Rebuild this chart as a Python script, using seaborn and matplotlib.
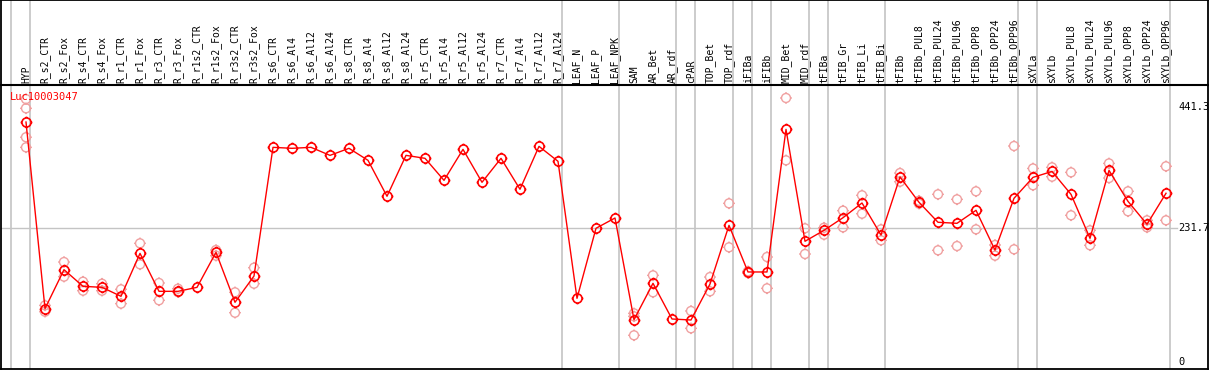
import numpy as np
import pandas as pd
import seaborn as sns
import matplotlib.pyplot as plt
from matplotlib.path import Path

nan = np.nan

samples = ['HYP', 'R_s2_CTR', 'R_s2_Fox', 'R_s4_CTR', 'R_s4_Fox', 'R_r1_CTR', 'R_r1_Fox',
           'R_r3_CTR', 'R_r3_Fox', 'R_r1s2_CTR', 'R_r1s2_Fox', 'R_r3s2_CTR', 'R_r3s2_Fox',
           'R_s6_CTR', 'R_s6_Al4', 'R_s6_Al12', 'R_s6_Al24', 'R_s8_CTR', 'R_s8_Al4',
           'R_s8_Al12', 'R_s8_Al24', 'R_r5_CTR', 'R_r5_Al4', 'R_r5_Al12', 'R_r5_Al24',
           'R_r7_CTR', 'R_r7_Al4', 'R_r7_Al12', 'R_r7_Al24', 'LEAF_N', 'LEAF_P', 'LEAF_NPK',
           'SAM', 'AR_Bet', 'AR_rdf', 'cPAR', 'TOP_Bet', 'TOP_rdf', 'iFIBa', 'iFIBb',
           'MID_Bet', 'MID_rdf', 'tFIBa', 'tFIB_Gr', 'tFIB_Li', 'tFIB_Bi', 'tFIBb',
           'tFIBb_PUL8', 'tFIBb_PUL24', 'tFIBb_PUL96', 'tFIBb_OPP8', 'tFIBb_OPP24',
           'tFIBb_OPP96', 'sXYLa', 'sXYLb', 'sXYLb_PUL8', 'sXYLb_PUL24', 'sXYLb_PUL96',
           'sXYLb_OPP8', 'sXYLb_OPP24', 'sXYLb_OPP96']

# mean expression
mean_val = [415.3, 92.3, 159.8, 131.0, 129.2, 113.7, 188.0, 122.3, 122.3, 129.2, 189.8,
            103.3, 148.8, 371.5, 369.8, 371.5, 357.6, 369.8, 349.0, 286.8, 357.6, 352.5,
            314.4, 368.0, 311.0, 352.5, 298.9, 373.2, 347.3, 110.2, 231.4, 249.2, 73.2,
            136.2, 74.4, 72.7, 135.0, 236.5, 155.8, 155.8, 402.6, 208.9, 227.9, 249.7,
            275.2, 219.8, 320.2, 276.4, 241.8, 240.0, 262.5, 193.8, 283.3, 319.5, 329.8,
            290.2, 214.0, 331.6, 278.0, 238.3, 292.0]

# replicates
rep1 = [439, 98, 173, 139, 135.5, 125.8, 205.4, 136.7, 126.9, nan, 193.8, 120.6, 163.2,
        nan, nan, nan, nan, nan, nan, nan, nan, nan, nan, nan, nan, nan, nan, nan, nan,
        nan, nan, nan, 84.2, 150, nan, 88.3, 147, 274.6, 157, 181.7, 456.9, 231.4, 232.4,
        261.9, 288.5, 229.6, 327, 279, 290.2, 281.5, 295.4, 202.5, 373.8, 335, 336.9,
        328.2, 227.9, 343.7, 295.4, 245.2, 338.7]
rep2 = [389, 87, 147.7, 123.4, 123.4, 101, 169, 106.8, 121, nan, 184, 85.3, 135.5,
        nan, nan, nan, nan, nan, nan, nan, nan, nan, nan, nan, nan, nan, nan, nan, nan,
        nan, nan, nan, 46.2, 120.6, nan, 58.3, 122.3, 198.5, 154, 127.5, 349, 186.9, 220.3,
        233, 256.6, 210.6, 312, 274, 193.3, 200.7, 229.6, 184, 195, 305.8, 320.7,
        253.9, 202, 318.4, 260.8, 233, 245.2]
rep3 = [455, nan, nan, nan, nan, nan, nan, nan, nan, nan, nan, nan, nan, nan, nan, nan,
        nan, nan, nan, nan, nan, nan, nan, nan, nan, nan, nan, nan, nan, nan, nan, nan,
        79, nan, nan, nan, nan, nan, nan, nan, nan, nan, nan, nan, nan, nan, nan, nan,
        nan, nan, nan, nan, nan, nan, nan, nan, nan, nan, nan, nan, nan]
rep4 = [371.5] + [nan] * 60

# last sample of each group (separator lines)
group_ends = [-1, 0, 28, 31, 34, 35, 37, 38, 39, 41, 42, 45, 52, 53, 60]
y_ticks = [441.3, 231.7, 0]
gene = 'Luc10003047'

pos = np.arange(len(samples))
main_df = pd.DataFrame({'pos': pos, 'value': mean_val})
rep_df = pd.DataFrame({'pos': np.tile(pos, 4),
                       'value': rep1 + rep2 + rep3 + rep4}).dropna()

# circle marker with four tiny ticks
circ = Path.unit_circle()
tk = 1.3
ticks = Path([(0, 1), (0, tk), (0, -1), (0, -tk), (1, 0), (tk, 0), (-1, 0), (-tk, 0)],
             [Path.MOVETO, Path.LINETO] * 4)
mark = Path.make_compound_path(circ, ticks)

W, H = 1209, 370
fig = plt.figure(figsize=(W / 100, H / 100), dpi=100)
plt.rcParams['font.family'] = ['DejaVu Sans Mono']

x0, x1 = 1, 1208
xlim = ((x0 - 26) / 19, (x1 - 26) / 19)
ax = fig.add_axes([x0 / W, (H - 369) / H, (x1 - x0) / W, (369 - 85) / H])
hax = fig.add_axes([x0 / W, (H - 85) / H, (x1 - x0) / W, 85 / H])

for a in (ax, hax):
    a.set_xlim(*xlim)
    a.set_xticks([])
    a.set_yticks([])
    for s in a.spines.values():
        s.set_linewidth(1.3)
        s.set_color('black')
    for g in group_ends:
        a.axvline(g + 0.22, color='#c4c4c4', lw=1.2, zorder=0)
hax.set_ylim(0, 1)
hax.spines['bottom'].set_linewidth(1.5)

ax.set_ylim((362 - 369) * 1.7306, (362 - 85) * 1.7306)
ax.axhline(231.7, xmax=(1177 - x0) / (x1 - x0), color='#c4c4c4', lw=1, zorder=0)

sns.scatterplot(data=rep_df, x='pos', y='value', ax=ax, marker=mark, s=70,
                facecolor='none', edgecolor='#f0a0a0', linewidth=1.0, zorder=2)
sns.lineplot(data=main_df, x='pos', y='value', ax=ax, color='red', lw=1.0,
             marker=mark, markersize=8.5, markerfacecolor='none',
             markeredgecolor='red', markeredgewidth=1.2, zorder=3)
ax.set_xlabel('')
ax.set_ylabel('')

for i, s in enumerate(samples):
    hax.text(i, 2 / 85, s, rotation=90, ha='center', va='bottom', fontsize=7)

trans = ax.get_yaxis_transform()
for v in y_ticks:
    ax.text((1178 - x0) / (x1 - x0), v, f'{v:g}', transform=trans,
            ha='left', va='center', fontsize=7.5)

ax.text((10 - x0) / (x1 - x0), (369 - 97) / 284, gene, transform=ax.transAxes,
        color='red', ha='left', va='center', fontsize=7.5)

fig.savefig('out.png', dpi=100)
